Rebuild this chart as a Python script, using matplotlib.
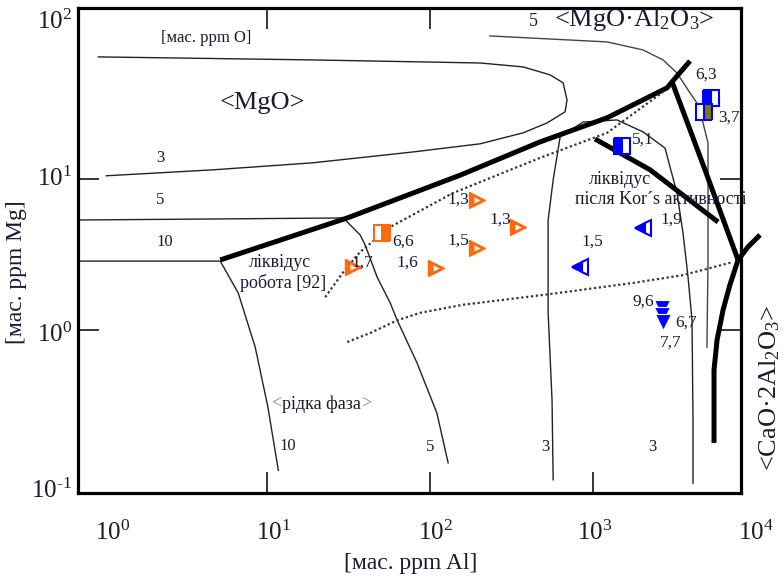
import matplotlib
matplotlib.use('Agg')
import matplotlib.pyplot as plt
from matplotlib.ticker import NullLocator

plt.rcParams['font.family'] = ['Liberation Serif', 'DejaVu Serif']
plt.rcParams['mathtext.fontset'] = 'custom'
plt.rcParams['mathtext.rm'] = 'Liberation Serif'
plt.rcParams['mathtext.it'] = 'Liberation Serif:italic'

# --- boundaries and contours, [ppm Al] vs [ppm Mg] ---
# closed "3" contour round <MgO>
c3_top_al = [0.92, 19.1, 203, 372, 545, 655, 692, 673, 522, 372, 203, 78.7, 19.1, 4.67, 1.03]
c3_top_mg = [64.3, 61.4, 58.6, 55.2, 48.9, 43.3, 33.3, 27.8, 23.5, 20.2, 17.1, 15.1, 12.8, 11.5, 10.5]

# "5" contour (left)
c5_al = [0.69, 29.3, 37.2, 39.9, 47.3, 56.9, 62.8, 83.2, 110, 129]
c5_mg = [5.35, 5.52, 4.26, 3.66, 2.24, 1.51, 1.16, 0.604, 0.282, 0.132]

# "10" contour
c10_al = [0.69, 5.15, 6.64, 8.44, 10.1, 11.7]
c10_mg = [2.86, 2.86, 1.76, 0.771, 0.309, 0.118]

# "5" contour (right, under <MgO.Al2O3>)
c5r_al = [233, 1219, 2027, 2688, 3275, 3936, 4345, 4731, 5076, 5076, 5000]
c5r_mg = [88.5, 80.8, 71.5, 61.4, 50.3, 37.1, 31.8, 23.5, 17.3, 2.91, 0.771]

# "3" contour (right, inverted U)
c3r_al = [569, 560, 530, 530, 569, 628, 868, 1403, 2027, 2767, 2968, 3275, 3565, 3828, 4049, 4105, 4105]
c3r_mg = [0.102, 0.344, 1.30, 5.35, 9.85, 19.0, 23.8, 24.6, 20.5, 16.0, 12.0, 8.07, 4.39, 2.24, 1.16, 0.254, 0.097]

# liquidus (thick)
liq_al = [5.15, 31.0, 153, 473, 1219, 2844, 3321, 3936]
liq_mg = [2.91, 5.52, 10.6, 17.6, 25.4, 40.1, 48.9, 60.4]

# MgO.Al2O3 / CaO.2Al2O3 boundary (thick)
sp_al = [3055, 4864, 7760]
sp_mg = [43.9, 11.5, 2.91]

# CaO.2Al2O3 boundary (thick)
cao_al = [10590, 8930, 7760, 6918, 6280, 5768, 5525, 5525]
cao_mg = [4.26, 3.55, 2.91, 1.99, 1.36, 0.859, 0.543, 0.179]

# liquidus after Kor's activities (thick)
kor_al = [1028, 2239, 5851]
kor_mg = [18.4, 11.5, 5.19]

# dotted lines
dot1_al = [22.7, 29.3, 37.2, 56.9, 138, 473, 1219, 2688]
dot1_mg = [1.65, 2.42, 3.29, 4.81, 8.07, 13.8, 20.2, 37.7]
dot2_al = [31.0, 42.8, 62.8, 86.9, 159, 545, 1759, 3565, 7228]
dot2_mg = [0.833, 0.955, 1.16, 1.30, 1.47, 1.73, 2.05, 2.31, 2.82]

# --- measured points ---
or_tri_al = [33.7, 109, 194, 347, 194]
or_tri_mg = [2.61, 2.58, 7.26, 4.81, 3.49]
or_tri_lab = ['1,7', '1,6', '1,3', '1,3', '1,5']
or_tri_off = [(9, 4), (-29, 5), (-19, 0), (-18, 7), (-19, 7)]

or_sq_al = [50.8]
or_sq_mg = [4.39]
or_sq_lab = ['6,6']
or_sq_off = [(21, -9)]

bl_tri_al = [2027, 832]
bl_tri_mg = [4.73, 2.61]
bl_tri_lab = ['1,9', '1,5']
bl_tri_off = [(28, 8), (12, 25)]

bl_down_al = [2650, 2650, 2680]
bl_down_mg = [1.40, 1.26, 1.13]
bl_down_lab = ['9,6', '6,7', '7,7']
bl_down_off = [(-19, 6), (24, -8), (8, -21)]

bl_sq_al = [5297, 1507]
bl_sq_mg = [34.4, 16.5]
bl_sq_lab = ['6,3', '5,1']
bl_sq_off = [(-5, 23), (21, 6)]

ol_sq_al = [4797]
ol_sq_mg = [27.8]
ol_sq_lab = ['3,7']
ol_sq_off = [(25, -6)]

W, H = 784, 582
orange = '#FF6A10'
blue = '#0000FF'
olive = '#7F7A00'
ink = '#1a1a33'

fig = plt.figure(figsize=(W / 100, H / 100), dpi=100)
ax = fig.add_axes([78 / W, 89 / H, 663 / W, 485 / H])
ax.set_xscale('log')
ax.set_yscale('log')
ax.set_xlim(0.69, 8090)
ax.set_ylim(0.0834, 135.5)

for s in ax.spines.values():
    s.set_linewidth(2.3)
ax.set_xticks([10, 100, 1000])
ax.set_yticks([1, 10])
ax.xaxis.set_minor_locator(NullLocator())
ax.yaxis.set_minor_locator(NullLocator())
ax.tick_params(direction='in', length=15, width=1.1, bottom=True, top=False,
               left=True, right=True, labelbottom=False, labelleft=False)
top = ax.secondary_xaxis('top')
top.set_xticks([10, 100])
top.xaxis.set_minor_locator(NullLocator())
top.tick_params(direction='in', length=15, width=1.1, labeltop=False)
top.spines['top'].set_visible(False)

thin = dict(color='#222222', lw=1.0)
ax.plot(c3_top_al, c3_top_mg, **thin)
ax.plot(c5_al, c5_mg, **thin)
ax.plot(c10_al, c10_mg, **thin)
ax.plot(c5r_al, c5r_mg, color='#444444', lw=1.0)
ax.plot(c3r_al, c3r_mg, **thin)

thick = dict(color='black', lw=3.6, solid_capstyle='butt', clip_on=False)
ax.plot(liq_al, liq_mg, **thick)
ax.plot(sp_al, sp_mg, **thick)
ax.plot(cao_al, cao_mg, **thick)
ax.plot(kor_al, kor_mg, **thick)

dots = dict(color='#333333', lw=1.6, ls=(0, (1, 1.2)))
ax.plot(dot1_al, dot1_mg, **dots)
ax.plot(dot2_al, dot2_mg, **dots)

# markers
ax.plot(or_tri_al, or_tri_mg, '>', ms=12, color=orange, mec=orange, ls='none')
ax.plot(or_tri_al, or_tri_mg, '>', ms=4, color='white', mec='none', ls='none')
ax.plot(or_sq_al, or_sq_mg, 's', ms=11, fillstyle='right', mfc=orange,
        markerfacecoloralt='white', mec=orange, mew=1.5, ls='none')
ax.plot(bl_tri_al, bl_tri_mg, '<', ms=11, fillstyle='left', mfc=blue,
        markerfacecoloralt='white', mec=blue, mew=1.5, ls='none')
ax.plot(bl_down_al, bl_down_mg, 'v', ms=11, color=blue, mec='white', mew=0.8, ls='none')
ax.plot(bl_sq_al, bl_sq_mg, 's', ms=11, fillstyle='left', mfc=blue,
        markerfacecoloralt='white', mec=blue, mew=1.5, ls='none')
ax.plot(ol_sq_al, ol_sq_mg, 's', ms=11, fillstyle='right', mfc=olive,
        markerfacecoloralt='white', mec=blue, mew=1.5, ls='none')

for xs, ys, labs, offs in [(or_tri_al, or_tri_mg, or_tri_lab, or_tri_off),
                           (or_sq_al, or_sq_mg, or_sq_lab, or_sq_off),
                           (bl_tri_al, bl_tri_mg, bl_tri_lab, bl_tri_off),
                           (bl_down_al, bl_down_mg, bl_down_lab, bl_down_off),
                           (bl_sq_al, bl_sq_mg, bl_sq_lab, bl_sq_off),
                           (ol_sq_al, ol_sq_mg, ol_sq_lab, ol_sq_off)]:
    for x, y, t, (dx, dy) in zip(xs, ys, labs, offs):
        ax.annotate(t, (x, y), xytext=(dx, dy), textcoords='offset pixels',
                    ha='center', va='center', fontsize=12.5, color=ink)


def put(x, y, s, **kw):
    kw.setdefault('color', ink)
    kw.setdefault('ha', 'center')
    kw.setdefault('va', 'center')
    fig.text(x / W, 1 - y / H, s, **kw)


# tick labels (the original uses a hyphen in 10-1)
for t, y in [('2', 29), ('1', 186), ('0', 342), (r'\text{-}1', 498)]:
    put(72, y, r'$10^{%s}$' % t, fontsize=18, ha='right', va='baseline')
for t, x in [('0', 113), ('1', 273), ('2', 435), ('3', 595), ('4', 756)]:
    put(x, 540, r'$10^{%s}$' % t, fontsize=18, va='baseline')

put(411, 564, '[мас. ppm Al]', fontsize=17)
put(17, 272, '[мас. ppm Mg]', fontsize=17, rotation=90)

# region / contour annotations
put(262, 103, '<MgO>', fontsize=19)
put(206, 38, '[мас. ppm O]', fontsize=12)
put(634, 20, r'<MgO·Al$_2$O$_3$>', fontsize=19)
put(533, 22, '5', fontsize=13)
put(770, 388, r'<CaO·2Al$_2$O$_3$>', fontsize=19, rotation=90)
put(160, 158, '3', fontsize=12)
put(160, 200, '5', fontsize=12)
put(165, 242, '10', fontsize=12)
put(288, 446, '10', fontsize=12)
put(430, 447, '5', fontsize=12)
put(545, 447, '3', fontsize=12)
put(652, 447, '3', fontsize=12)
put(280, 263, 'ліквідус', fontsize=13)
put(283, 283, 'робота [92]', fontsize=13)
put(620, 180, 'ліквідус', fontsize=13)
put(661, 200, 'після Kor´s активності', fontsize=13)
put(321, 404, 'рідка фаза', fontsize=13)
put(281, 404, '<', fontsize=13, ha='right', color='#888888')
put(361, 404, '>', fontsize=13, ha='left', color='#888888')

fig.savefig('out.png', dpi=100)
